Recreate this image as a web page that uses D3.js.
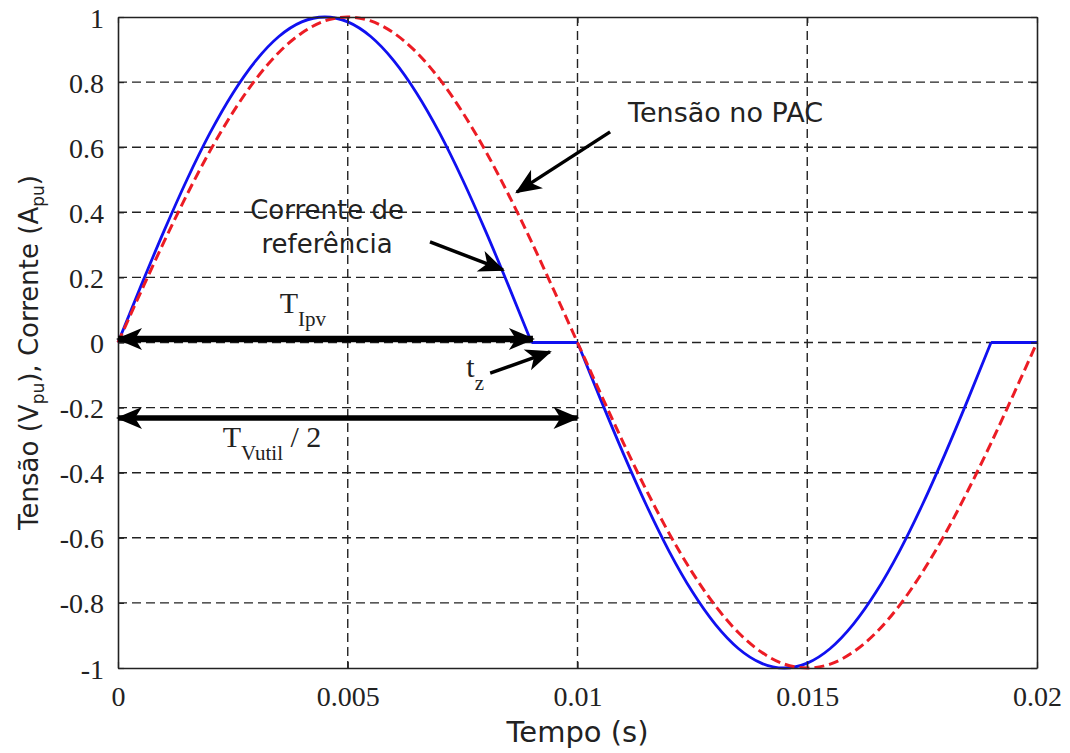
<!DOCTYPE html>
<meta charset="utf-8">
<style>
    body { margin: 0; background: #fff; }
    .tick text { font-family: "Liberation Serif", serif; font-size: 28px; fill: #222; }
    .grid line { stroke: #222; stroke-width: 1.4; stroke-dasharray: 9,5; }
    .lbl { font-family: "DejaVu Sans", sans-serif; fill: #222; }
    .ser { font-family: "Liberation Serif", serif; fill: #222; }
</style>
<body>
<div id="plotarea"></div>
<script src="https://cdn.jsdelivr.net/npm/d3@7"></script>
<script>

    // time samples (s) every 0.5 ms
    var tempo = [0, 0.0005, 0.001, 0.0015, 0.002, 0.0025, 0.003, 0.0035, 0.004, 0.0045,
        0.005, 0.0055, 0.006, 0.0065, 0.007, 0.0075, 0.008, 0.0085, 0.009, 0.0095,
        0.01, 0.0105, 0.011, 0.0115, 0.012, 0.0125, 0.013, 0.0135, 0.014, 0.0145,
        0.015, 0.0155, 0.016, 0.0165, 0.017, 0.0175, 0.018, 0.0185, 0.019, 0.0195, 0.02];

    // Tensão no PAC (pu) - red dashed
    var tensao = [0, 0.156, 0.309, 0.454, 0.588, 0.707, 0.809, 0.891, 0.951, 0.988,
        1, 0.988, 0.951, 0.891, 0.809, 0.707, 0.588, 0.454, 0.309, 0.156,
        0, -0.156, -0.309, -0.454, -0.588, -0.707, -0.809, -0.891, -0.951, -0.988,
        -1, -0.988, -0.951, -0.891, -0.809, -0.707, -0.588, -0.454, -0.309, -0.156, 0];

    // Corrente de referência (pu) - blue solid
    var corrente = [0, 0.174, 0.342, 0.5, 0.643, 0.766, 0.866, 0.94, 0.985, 1,
        0.985, 0.94, 0.866, 0.766, 0.643, 0.5, 0.342, 0.174, 0, 0,
        0, -0.174, -0.342, -0.5, -0.643, -0.766, -0.866, -0.94, -0.985, -1,
        -0.985, -0.94, -0.866, -0.766, -0.643, -0.5, -0.342, -0.174, 0, 0, 0];

    var xTicks = [0, 0.005, 0.01, 0.015, 0.02];
    var xTickLabels = ["0", "0.005", "0.01", "0.015", "0.02"];
    var yTicks = [-1, -0.8, -0.6, -0.4, -0.2, 0, 0.2, 0.4, 0.6, 0.8, 1];
    var yTickLabels = ["-1", "-0.8", "-0.6", "-0.4", "-0.2", "0", "0.2", "0.4", "0.6", "0.8", "1"];

    var margin = {top: 17, right: 33, bottom: 85, left: 118},
        width = 1070 - margin.left - margin.right,
        height = 753 - margin.top - margin.bottom;

    var x = d3.scaleLinear().domain([0, 0.02]).range([0, width]);
    var y = d3.scaleLinear().domain([-1, 1]).range([height, 0]);

    var svg = d3.select("#plotarea").append("svg")
        .attr("width", 1070)
        .attr("height", 753)
        .append("g")
        .attr("transform", "translate(" + margin.left + "," + margin.top + ")");

    var defs = svg.append("defs");
    defs.append("marker")
        .attr("id", "head")
        .attr("markerUnits", "userSpaceOnUse")
        .attr("viewBox", "-26 -12 28 24")
        .attr("refX", 0).attr("refY", 0)
        .attr("markerWidth", 28).attr("markerHeight", 24)
        .attr("orient", "auto-start-reverse")
        .append("path")
        .attr("d", "M2,0 L-24,-11 L-17,0 L-24,11 Z")
        .attr("fill", "#000");

    // grid (inner lines only)
    svg.append("g").attr("class", "grid")
        .selectAll("line").data(xTicks.slice(1, -1)).enter().append("line")
        .attr("x1", function(d) { return x(d); }).attr("x2", function(d) { return x(d); })
        .attr("y1", 0).attr("y2", height);
    svg.append("g").attr("class", "grid")
        .selectAll("line").data(yTicks.slice(1, -1)).enter().append("line")
        .attr("x1", 0).attr("x2", width)
        .attr("y1", function(d) { return y(d); }).attr("y2", function(d) { return y(d); });

    // curves
    var pts = function(vals) { return tempo.map(function(t, i) { return [t, vals[i]]; }); };
    var line = d3.line()
        .x(function(d) { return x(d[0]); })
        .y(function(d) { return y(d[1]); })
        .curve(d3.curveMonotoneX);

    // current has sharp corners where it is clamped to zero: split it there
    var cPts = pts(corrente), pieces = [], cur = [cPts[0]];
    for (var i = 1; i < cPts.length; i++) {
        cur.push(cPts[i]);
        var flatPrev = corrente[i] === 0 && corrente[i - 1] === 0;
        var flatNext = corrente[i] === 0 && i + 1 < cPts.length && corrente[i + 1] === 0;
        if (flatPrev !== flatNext || (i + 1 < cPts.length && flatPrev && flatNext === false)) {
            pieces.push(cur);
            cur = [cPts[i]];
        }
    }
    if (cur.length > 1) pieces.push(cur);

    svg.append("path")
        .attr("d", pieces.map(function(p) { return line(p); }).join(""))
        .attr("fill", "none").attr("stroke", "#1010f0").attr("stroke-width", 2.8)
        .attr("stroke-linejoin", "round");
    svg.append("path")
        .attr("d", line(pts(tensao)))
        .attr("fill", "none").attr("stroke", "#ec1c24").attr("stroke-width", 3)
        .attr("stroke-dasharray", "10,5");

    // axes, ticks inward, MATLAB box
    var xAxis = d3.axisBottom(x).tickValues(xTicks).tickSizeInner(-6).tickSizeOuter(0)
        .tickPadding(18).tickFormat(function(d, i) { return xTickLabels[i]; });
    var yAxis = d3.axisLeft(y).tickValues(yTicks).tickSizeInner(-6).tickSizeOuter(0)
        .tickPadding(14).tickFormat(function(d, i) { return yTickLabels[i]; });

    var gx = svg.append("g").attr("transform", "translate(0," + height + ")").call(xAxis);
    var gy = svg.append("g").call(yAxis);
    svg.append("g").call(d3.axisTop(x).tickValues(xTicks).tickSizeInner(-6).tickSizeOuter(0).tickFormat(""));
    svg.append("g").attr("transform", "translate(" + width + ",0)")
        .call(d3.axisRight(y).tickValues(yTicks).tickSizeInner(-6).tickSizeOuter(0).tickFormat(""));
    svg.selectAll(".domain").attr("stroke", "#222").attr("stroke-width", 1.6);
    svg.selectAll(".tick line").attr("stroke", "#222").attr("stroke-width", 1.2);
    gy.selectAll(".tick text").attr("dy", "0.36em");
    gx.selectAll(".tick text").attr("dy", "0.72em");

    // axis titles
    svg.append("text").attr("class", "lbl")
        .attr("x", width / 2).attr("y", 725)
        .attr("text-anchor", "middle").style("font-size", "29px")
        .text("Tempo (s)");

    var yl = svg.append("text").attr("class", "lbl")
        .attr("transform", "translate(-80," + (height / 2 + 10) + ") rotate(-90)")
        .attr("text-anchor", "middle").style("font-size", "26px");
    yl.append("tspan").text("Tensão (V");
    yl.append("tspan").attr("dy", 6).style("font-size", "17px").text("pu");
    yl.append("tspan").attr("dy", -6).text("), Corrente (A");
    yl.append("tspan").attr("dy", 6).style("font-size", "17px").text("pu");
    yl.append("tspan").attr("dy", -6).text(")");

    // annotation arrows (data units)
    var arrows = [
        {x1: 0, y1: 0.011, x2: 0.00903, y2: 0.011, w: 6.5, both: true},
        {x1: 0, y1: -0.232, x2: 0.01, y2: -0.232, w: 5.5, both: true},
        {x1: 0.01071, y1: 0.647, x2: 0.00868, y2: 0.462, w: 3.5, both: false},
        {x1: 0.00679, y1: 0.309, x2: 0.00838, y2: 0.223, w: 3.5, both: false},
        {x1: 0.0081, y1: -0.094, x2: 0.0094, y2: -0.029, w: 3.5, both: false}
    ];
    svg.selectAll(".arrow").data(arrows).enter().append("line")
        .attr("class", "arrow")
        .attr("x1", function(d) { return x(d.x1); }).attr("y1", function(d) { return y(d.y1); })
        .attr("x2", function(d) { return x(d.x2); }).attr("y2", function(d) { return y(d.y2); })
        .attr("stroke", "#000").attr("stroke-width", function(d) { return d.w; })
        .attr("marker-end", "url(#head)")
        .attr("marker-start", function(d) { return d.both ? "url(#head)" : null; });

    // annotation labels
    svg.append("text").attr("class", "lbl").style("font-size", "27px")
        .attr("x", x(0.0111)).attr("y", y(0.677)).text("Tensão no PAC");
    svg.append("text").attr("class", "lbl").style("font-size", "26px")
        .attr("x", x(0.00455)).attr("y", y(0.38)).attr("text-anchor", "middle").text("Corrente de");
    svg.append("text").attr("class", "lbl").style("font-size", "26px")
        .attr("x", x(0.00455)).attr("y", y(0.275)).attr("text-anchor", "middle").text("referência");

    var tI = svg.append("text").attr("class", "ser").style("font-size", "30px")
        .attr("x", x(0.00352)).attr("y", y(0.09));
    tI.append("tspan").text("T");
    tI.append("tspan").attr("dy", 13).style("font-size", "21px").text("Ipv");

    var tz = svg.append("text").attr("class", "ser").style("font-size", "30px")
        .attr("x", x(0.00758)).attr("y", y(-0.106));
    tz.append("tspan").text("t");
    tz.append("tspan").attr("dy", 13).style("font-size", "21px").text("z");

    var tv = svg.append("text").attr("class", "ser").style("font-size", "30px")
        .attr("x", x(0.00228)).attr("y", y(-0.32));
    tv.append("tspan").text("T");
    tv.append("tspan").attr("dy", 13).style("font-size", "21px").text("Vutil");
    tv.append("tspan").attr("dy", -13).text(" / 2");

</script>
